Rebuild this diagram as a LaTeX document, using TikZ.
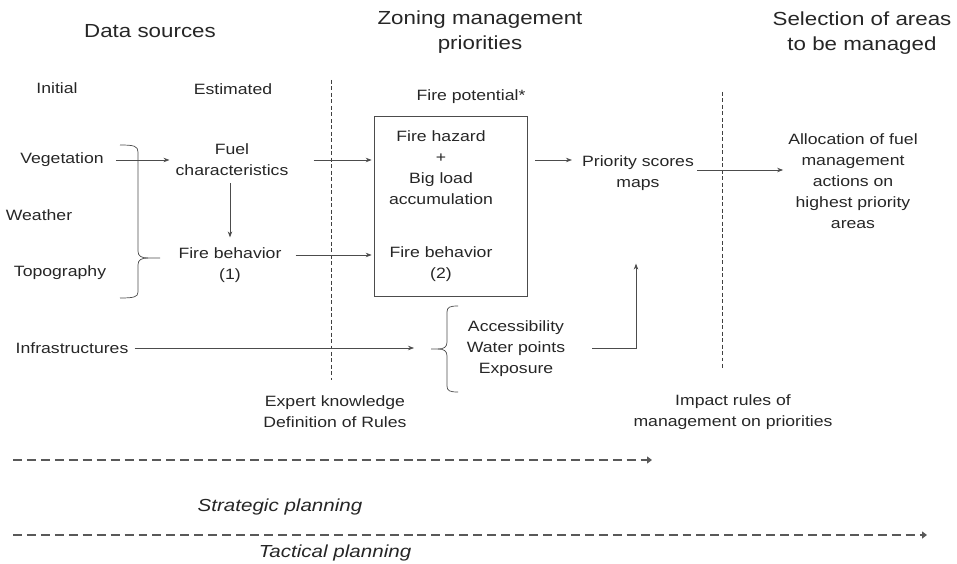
\documentclass[tikz,border=0pt]{standalone}
\usepackage{fontspec}
\setmainfont{Liberation Sans}[FakeStretch=1.18]
\usetikzlibrary{arrows.meta}

\tikzset{
	txt/.style={font=\fontsize{15}{21}\selectfont, align=center, inner sep=0pt, text=black!85},
	head/.style={font=\fontsize{19}{25}\selectfont, align=center, inner sep=0pt, text=black!85},
	plan/.style={font=\fontsize{17.5}{20}\selectfont\itshape, inner sep=0pt, text=black!85},
	arr/.style={-{Stealth[length=6pt,width=4.5pt]}, black!70, line width=0.7pt},
	ln/.style={black!70, line width=0.7pt},
	sep/.style={black!75, line width=0.7pt, dash pattern=on 4pt off 2.5pt},
	timeline/.style={black!65, line width=2.6pt, dash pattern=on 9pt off 5pt, -{Triangle[length=5pt,width=7pt]}}
}

\begin{document}
\begin{tikzpicture}[x=1bp,y=-1bp]
	\useasboundingbox (0,0) rectangle (957,564);
	
	% headings
	\node[head] (hdata) at (150,31) {Data sources};
	\node[head] (hzone) at (480,32) {Zoning management\\priorities};
	\node[head] (hsel) at (862,33) {Selection of areas\\to be managed};
	
	\node[txt] (init) at (57,88) {Initial};
	\node[txt] (est) at (233,89) {Estimated};
	\node[txt] (pot) at (471,97) {Fire potential*};
	
	% initial data
	\node[txt] (veg) at (62,160) {Vegetation};
	\node[txt] (wea) at (39,215) {Weather};
	\node[txt] (topo) at (60,273) {Topography};
	\node[txt] (infra) at (72,348) {Infrastructures};
	
	% estimated data
	\node[txt] (fuel) at (232,160) {Fuel\\characteristics};
	\node[txt] (fb1) at (230,265) {Fire behavior\\(1)};
	
	% fire potential box
	\node[ln, draw, minimum width=153bp, minimum height=180bp, inner sep=0pt] (pbox) at (450.5,206) {};
	\node[txt] (haz) at (441,168) {Fire hazard\\+\\Big load\\accumulation};
	\node[txt] (fb2) at (441,264) {Fire behavior\\(2)};
	
	\node[txt] (prio) at (638,173) {Priority scores\\maps};
	\node[txt] (alloc) at (853,181) {Allocation of fuel\\management\\actions on\\highest priority\\areas};
	\node[txt] (acc) at (516,349) {Accessibility\\Water points\\Exposure};
	
	\node[txt] (expert) at (335,412) {Expert knowledge\\Definition of Rules};
	\node[txt] (impact) at (733,412) {Impact rules of\\management on priorities};
	
	% vertical separators
	\draw[sep] (331,80) -- (331,380);
	\draw[sep] (722,92) -- (722,370);
	
	% left brace
	\draw[ln] (120,145) .. controls (134,145) and (138,146) .. (138,152) -- (138,251)
		.. controls (138,256) and (141,258) .. (148,258) -- (160,258);
	\draw[ln] (148,258) .. controls (141,258) and (138,260) .. (138,265) -- (138,292)
		.. controls (138,297) and (134,298) .. (120,298);
	
	% right brace
	\draw[ln] (458,306) .. controls (450,306) and (447,307) .. (447,312) -- (447,342)
		.. controls (447,347) and (444,349) .. (438,349) -- (431,349);
	\draw[ln] (438,349) .. controls (444,349) and (447,351) .. (447,356) -- (447,386)
		.. controls (447,391) and (450,392) .. (458,392);
	\coordinate (acctip) at (414,349);
	
	% arrows
	\coordinate (vegout) at ([xshift=12bp]veg.east);
	\draw[arr] (vegout) -- ([xshift=-6bp]vegout -| fuel.west);
	\draw[arr] ([yshift=-7bp]fb1.north |- fuel.south) -- ([yshift=10bp]fb1.north);
	\draw[arr] ([xshift=25bp]fuel.east) -- ([xshift=-2bp]fuel.east -| pbox.west);
	\coordinate (fb1out) at ([xshift=14bp,yshift=10bp]fb1.east);
	\draw[arr] (fb1out) -- ([xshift=-2bp]fb1out -| pbox.west);
	\coordinate (boxout) at ([xshift=8bp]pbox.east |- fuel.east);
	\draw[arr] (boxout) -- ([xshift=-10bp]boxout -| prio.west);
	\coordinate (prioout) at ([xshift=3bp,yshift=3bp]prio.east);
	\draw[arr] (prioout) -- ([xshift=-5bp]prioout -| alloc.west);
	\coordinate (infraout) at ([xshift=6bp]infra.east);
	\draw[arr] (infraout) -- (infraout -| acctip);
	\draw[arr] ([xshift=27bp,yshift=1bp]acc.east) -| ([xshift=-2bp,yshift=-73bp]prio.south);
	
	% planning horizons
	\draw[timeline] (13,460) -- (652,460);
	\node[plan] (strat) at (280,507) {Strategic planning};
	\draw[timeline] (13,535) -- (927,535);
	\node[plan] (tact) at (335,553) {Tactical planning};
\end{tikzpicture}
\end{document}
